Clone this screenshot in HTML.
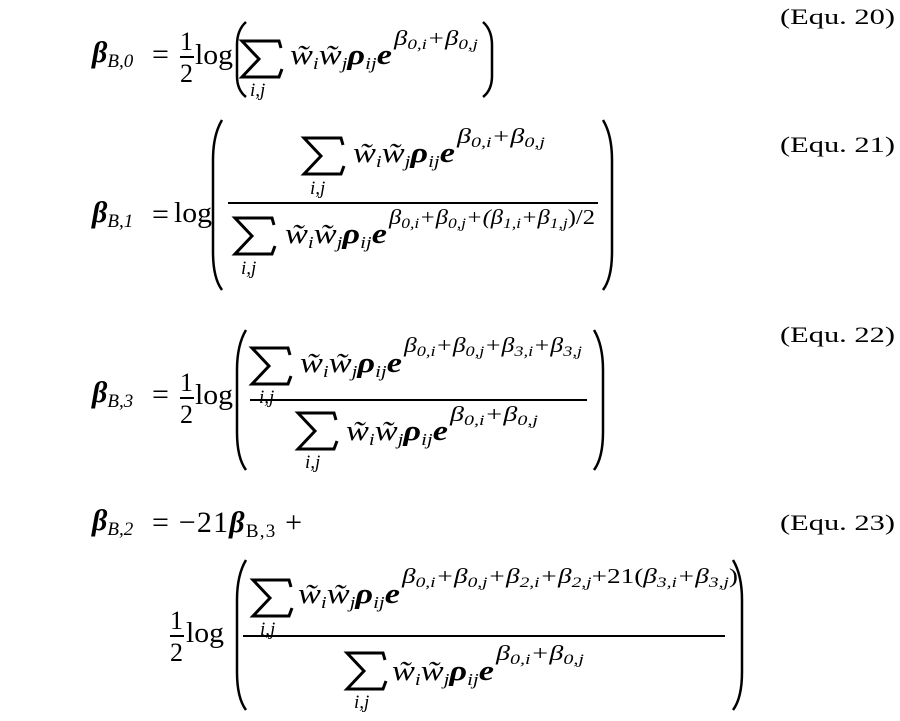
<!DOCTYPE html>
<html><head><meta charset="utf-8"><style>
html,body{margin:0;padding:0;background:#fff;width:900px;height:721px;overflow:hidden}
svg{display:block}
text{font-family:"Liberation Serif",serif;fill:#000}
.i{font-style:italic}
.b{font-style:italic;font-weight:bold}
</style></head><body>
<svg width="900" height="721" viewBox="0 0 900 721" xmlns="http://www.w3.org/2000/svg">
<g fill="none" stroke="#000" stroke-width="2.5">
<path d="M246,22 Q237,30 237,45 L237,76 Q237,90 246,97"/>
<path d="M483,22 Q492,30 492,45 L492,76 Q492,90 483,97"/>
<path d="M222,120 Q213,135 213,160 L213,252 Q213,278 222,290"/>
<path d="M603,120 Q612,135 612,160 L612,252 Q612,278 603,290"/>
<path d="M246,330 Q237,345 237,370 L237,432 Q237,458 246,470"/>
<path d="M594,330 Q603,345 603,370 L603,432 Q603,458 594,470"/>
<path d="M246,560 Q237,575 237,600 L237,672 Q237,698 246,710"/>
<path d="M733,560 Q742,575 742,600 L742,672 Q742,698 733,710"/>
</g>
<!-- Sigma signs -->
<g fill="none" stroke="#000" stroke-width="3" stroke-linejoin="miter">
<path d="M281,48 L279,41 L242,41 L259,59 L242,77 L279,77 L282,69"/>
<path d="M343,145 L341,138 L304,138 L321,156 L304,174 L341,174 L344,166"/>
<path d="M274,225 L272,218 L235,218 L252,236 L235,254 L272,254 L275,246"/>
<path d="M290,355 L288,348 L252,348 L269,366 L252,384 L288,384 L291,376"/>
<path d="M336,420 L334,413 L298,413 L315,431 L298,449 L334,449 L337,441"/>
<path d="M291,587 L289,580 L253,580 L270,598 L253,616 L289,616 L292,608"/>
<path d="M385,660 L383,653 L347,653 L364,671 L347,689 L383,689 L386,681"/>
</g>
<g stroke="#000" stroke-width="2">
<line x1="180" y1="57" x2="194" y2="57"/>
<line x1="228" y1="203" x2="598" y2="203"/>
<line x1="180" y1="398" x2="194" y2="398"/>
<line x1="250" y1="400" x2="587" y2="400"/>
<line x1="170" y1="636" x2="184" y2="636"/>
<line x1="243" y1="636" x2="725" y2="636"/>
</g>

<text x="780" y="24" font-size="22" textLength="115" lengthAdjust="spacingAndGlyphs">(Equ. 20)</text>
<text x="780" y="152" font-size="22" textLength="115" lengthAdjust="spacingAndGlyphs">(Equ. 21)</text>
<text x="780" y="342" font-size="22" textLength="115" lengthAdjust="spacingAndGlyphs">(Equ. 22)</text>
<text x="780" y="530" font-size="22" textLength="115" lengthAdjust="spacingAndGlyphs">(Equ. 23)</text>

<!-- Eq 20 -->
<text x="92" y="62" font-size="30" class="b">β<tspan font-size="19" dy="5" font-weight="normal">B,0</tspan></text>
<text x="152" y="64" font-size="30">=</text>
<text x="180" y="50" font-size="26">1</text>
<text x="180" y="82" font-size="26">2</text>
<text x="195" y="64" font-size="28" textLength="38" lengthAdjust="spacingAndGlyphs">log</text>
<text x="250" y="96" font-size="19" class="i">i,j</text>
<text x="290" y="64" font-size="28" class="i" textLength="102" lengthAdjust="spacingAndGlyphs">w̃<tspan font-size="17" dy="5">i</tspan><tspan dy="-5">w̃</tspan><tspan font-size="17" dy="5">j</tspan><tspan dy="-5" class="b">ρ</tspan><tspan font-size="17" dy="5">ij</tspan><tspan dy="-5" class="b">e</tspan></text>
<text x="394" y="45" font-size="21" class="i" textLength="84" lengthAdjust="spacingAndGlyphs">β<tspan font-size="15" dy="4">0,i</tspan><tspan dy="-4">+β</tspan><tspan font-size="15" dy="4">0,j</tspan></text>

<!-- Eq 21 -->
<text x="92" y="222" font-size="30" class="b">β<tspan font-size="19" dy="5" font-weight="normal">B,1</tspan></text>
<text x="152" y="224" font-size="30">=</text>
<text x="174" y="222" font-size="28" textLength="38" lengthAdjust="spacingAndGlyphs">log</text>
<text x="310" y="194" font-size="19" class="i">i,j</text>
<text x="353" y="162" font-size="28" class="i" textLength="102" lengthAdjust="spacingAndGlyphs">w̃<tspan font-size="17" dy="5">i</tspan><tspan dy="-5">w̃</tspan><tspan font-size="17" dy="5">j</tspan><tspan dy="-5" class="b">ρ</tspan><tspan font-size="17" dy="5">ij</tspan><tspan dy="-5" class="b">e</tspan></text>
<text x="457" y="143" font-size="21" class="i" textLength="88" lengthAdjust="spacingAndGlyphs">β<tspan font-size="15" dy="4">0,i</tspan><tspan dy="-4">+β</tspan><tspan font-size="15" dy="4">0,j</tspan></text>
<text x="241" y="274" font-size="19" class="i">i,j</text>
<text x="285" y="243" font-size="28" class="i" textLength="102" lengthAdjust="spacingAndGlyphs">w̃<tspan font-size="17" dy="5">i</tspan><tspan dy="-5">w̃</tspan><tspan font-size="17" dy="5">j</tspan><tspan dy="-5" class="b">ρ</tspan><tspan font-size="17" dy="5">ij</tspan><tspan dy="-5" class="b">e</tspan></text>
<text x="389" y="224" font-size="21" class="i" textLength="206" lengthAdjust="spacingAndGlyphs">β<tspan font-size="15" dy="4">0,i</tspan><tspan dy="-4">+β</tspan><tspan font-size="15" dy="4">0,j</tspan><tspan dy="-4">+(β</tspan><tspan font-size="15" dy="4">1,i</tspan><tspan dy="-4">+β</tspan><tspan font-size="15" dy="4">1,j</tspan><tspan dy="-4" font-style="normal">)/2</tspan></text>

<!-- Eq 22 -->
<text x="92" y="402" font-size="30" class="b">β<tspan font-size="19" dy="5" font-weight="normal">B,3</tspan></text>
<text x="152" y="404" font-size="30">=</text>
<text x="180" y="391" font-size="26">1</text>
<text x="180" y="423" font-size="26">2</text>
<text x="195" y="404" font-size="28" textLength="38" lengthAdjust="spacingAndGlyphs">log</text>
<text x="259" y="403" font-size="19" class="i">i,j</text>
<text x="300" y="372" font-size="28" class="i" textLength="102" lengthAdjust="spacingAndGlyphs">w̃<tspan font-size="17" dy="5">i</tspan><tspan dy="-5">w̃</tspan><tspan font-size="17" dy="5">j</tspan><tspan dy="-5" class="b">ρ</tspan><tspan font-size="17" dy="5">ij</tspan><tspan dy="-5" class="b">e</tspan></text>
<text x="404" y="352" font-size="21" class="i" textLength="178" lengthAdjust="spacingAndGlyphs">β<tspan font-size="15" dy="4">0,i</tspan><tspan dy="-4">+β</tspan><tspan font-size="15" dy="4">0,j</tspan><tspan dy="-4">+β</tspan><tspan font-size="15" dy="4">3,i</tspan><tspan dy="-4">+β</tspan><tspan font-size="15" dy="4">3,j</tspan></text>
<text x="305" y="468" font-size="19" class="i">i,j</text>
<text x="346" y="440" font-size="28" class="i" textLength="102" lengthAdjust="spacingAndGlyphs">w̃<tspan font-size="17" dy="5">i</tspan><tspan dy="-5">w̃</tspan><tspan font-size="17" dy="5">j</tspan><tspan dy="-5" class="b">ρ</tspan><tspan font-size="17" dy="5">ij</tspan><tspan dy="-5" class="b">e</tspan></text>
<text x="450" y="421" font-size="21" class="i" textLength="88" lengthAdjust="spacingAndGlyphs">β<tspan font-size="15" dy="4">0,i</tspan><tspan dy="-4">+β</tspan><tspan font-size="15" dy="4">0,j</tspan></text>

<!-- Eq 23 -->
<text x="92" y="530" font-size="30" class="b">β<tspan font-size="19" dy="5" font-weight="normal">B,2</tspan></text>
<text x="152" y="532" font-size="30" textLength="150" lengthAdjust="spacing">= −21<tspan class="b">β</tspan><tspan font-size="19" dy="5">B,3</tspan><tspan dy="-5"> +</tspan></text>
<text x="170" y="629" font-size="26">1</text>
<text x="170" y="661" font-size="26">2</text>
<text x="186" y="642" font-size="28" textLength="38" lengthAdjust="spacingAndGlyphs">log</text>
<text x="260" y="635" font-size="19" class="i">i,j</text>
<text x="298" y="603" font-size="28" class="i" textLength="102" lengthAdjust="spacingAndGlyphs">w̃<tspan font-size="17" dy="5">i</tspan><tspan dy="-5">w̃</tspan><tspan font-size="17" dy="5">j</tspan><tspan dy="-5" class="b">ρ</tspan><tspan font-size="17" dy="5">ij</tspan><tspan dy="-5" class="b">e</tspan></text>
<text x="402" y="583" font-size="21" class="i" textLength="336" lengthAdjust="spacingAndGlyphs">β<tspan font-size="15" dy="4">0,i</tspan><tspan dy="-4">+β</tspan><tspan font-size="15" dy="4">0,j</tspan><tspan dy="-4">+β</tspan><tspan font-size="15" dy="4">2,i</tspan><tspan dy="-4">+β</tspan><tspan font-size="15" dy="4">2,j</tspan><tspan dy="-4" font-style="normal">+21(</tspan><tspan>β</tspan><tspan font-size="15" dy="4">3,i</tspan><tspan dy="-4">+β</tspan><tspan font-size="15" dy="4">3,j</tspan><tspan dy="-4" font-style="normal">)</tspan></text>
<text x="354" y="708" font-size="19" class="i">i,j</text>
<text x="392" y="680" font-size="28" class="i" textLength="102" lengthAdjust="spacingAndGlyphs">w̃<tspan font-size="17" dy="5">i</tspan><tspan dy="-5">w̃</tspan><tspan font-size="17" dy="5">j</tspan><tspan dy="-5" class="b">ρ</tspan><tspan font-size="17" dy="5">ij</tspan><tspan dy="-5" class="b">e</tspan></text>
<text x="496" y="660" font-size="21" class="i" textLength="88" lengthAdjust="spacingAndGlyphs">β<tspan font-size="15" dy="4">0,i</tspan><tspan dy="-4">+β</tspan><tspan font-size="15" dy="4">0,j</tspan></text>
</svg>
</body></html>
